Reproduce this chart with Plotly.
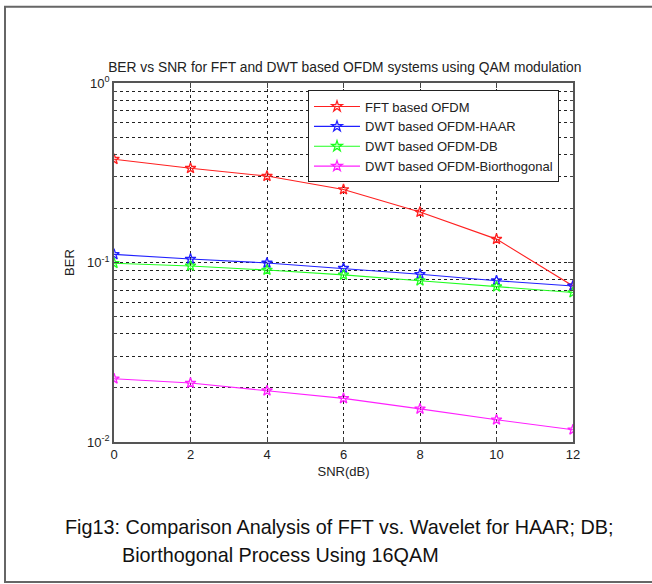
import plotly.graph_objects as go

# ---- data ----
snr_db = [0, 2, 4, 6, 8, 10, 12]
ber_fft = [0.376, 0.335, 0.303, 0.255, 0.191, 0.135, 0.074]
ber_haar = [0.111, 0.1045, 0.0994, 0.0929, 0.0860, 0.0792, 0.0740]
ber_db = [0.099, 0.0957, 0.0908, 0.0853, 0.0792, 0.0734, 0.0680]
ber_bior = [0.0225, 0.0213, 0.0193, 0.0175, 0.0153, 0.0133, 0.0117]

series_names = ["FFT based OFDM", "DWT based OFDM-HAAR", "DWT based OFDM-DB",
                "DWT based OFDM-Biorthogonal"]
series_vals = [ber_fft, ber_haar, ber_db, ber_bior]
series_colors = ["#ff2020", "#2020ff", "#20ff20", "#ff20ff"]

y_tickvals = [0.01, 0.1, 1]
y_ticktext = ["10<sup>-2</sup>", "10<sup>-1</sup>", "10<sup>0</sup>"]
x_tickvals = [0, 2, 4, 6, 8, 10, 12]

# ---- layout geometry (pixels) ----
W, H = 652, 584
L, R, T, B = 114, 573, 82.5, 442.5


def px(x):
    return (x - L) / (R - L)


def py(y):
    return (B - y) / (B - T)


FONT = "Liberation Sans, Arial, sans-serif"

fig = go.Figure()
for name, vals, col in zip(series_names, series_vals, series_colors):
    fig.add_trace(go.Scatter(
        x=snr_db, y=vals, name=name, mode="lines+markers",
        line=dict(color=col, width=1.1),
        marker=dict(symbol="star-open", size=8, color=col, line=dict(width=1.3, color=col)),
    ))

grid_common = dict(showgrid=True, gridcolor="#222", griddash="dot", gridwidth=1)

fig.update_layout(
    width=W, height=H,
    margin=dict(l=L, r=W - R, t=T, b=H - B),
    paper_bgcolor="white", plot_bgcolor="white",
    font=dict(family=FONT, size=13, color="#222"),
    title=dict(text="BER vs SNR for FFT and DWT based OFDM systems using QAM modulation",
               x=(L + R) / 2 / W + 0.002, xref="container", xanchor="center",
               y=1 - 67 / H, yref="container", yanchor="middle",
               font=dict(size=13.8, color="#222")),
    showlegend=True,
    legend=dict(x=px(308), y=py(90), xanchor="left", yanchor="top",
                bgcolor="white", bordercolor="#222", borderwidth=1,
                itemwidth=46, font=dict(size=13, color="#222"),
                tracegroupgap=0),
    xaxis=dict(range=[0, 12], tickvals=x_tickvals, ticks="inside", ticklen=5,
               tickcolor="#444", showline=True, linecolor="#555", linewidth=1.6,
               mirror="ticks", zeroline=False,
               title=dict(text="SNR(dB)", standoff=5, font=dict(size=13)),
               tickfont=dict(size=13), **grid_common),
    yaxis=dict(type="log", range=[-2, 0], tickvals=y_tickvals, ticktext=y_ticktext,
               ticks="inside", ticklen=5, tickcolor="#444",
               showline=True, linecolor="#555", linewidth=1.6, mirror="ticks",
               zeroline=False,
               title=dict(text="BER", standoff=9, font=dict(size=13)),
               tickfont=dict(size=13),
               minor=dict(tickvals=[k * 10 ** e for e in (-2, -1) for k in range(2, 10)],
                          ticks="inside", ticklen=3, tickcolor="#444",
                          showgrid=True, gridcolor="#222", griddash="dot", gridwidth=1),
               **grid_common),
)

# outer frame
fig.add_shape(type="rect", xref="paper", yref="paper",
              x0=px(5), x1=px(660), y0=py(583), y1=py(6),
              line=dict(color="#666", width=2), layer="below")

# caption
fig.add_annotation(text="Fig13: Comparison Analysis of FFT vs. Wavelet for HAAR; DB;",
                   xref="paper", yref="paper", x=px(63), y=py(528),
                   xanchor="left", yanchor="middle", showarrow=False,
                   font=dict(size=19.8, color="#111", family=FONT))
fig.add_annotation(text="Biorthogonal Process Using 16QAM",
                   xref="paper", yref="paper", x=px(120), y=py(556),
                   xanchor="left", yanchor="middle", showarrow=False,
                   font=dict(size=19.8, color="#111", family=FONT))

fig.write_html("out.html")
